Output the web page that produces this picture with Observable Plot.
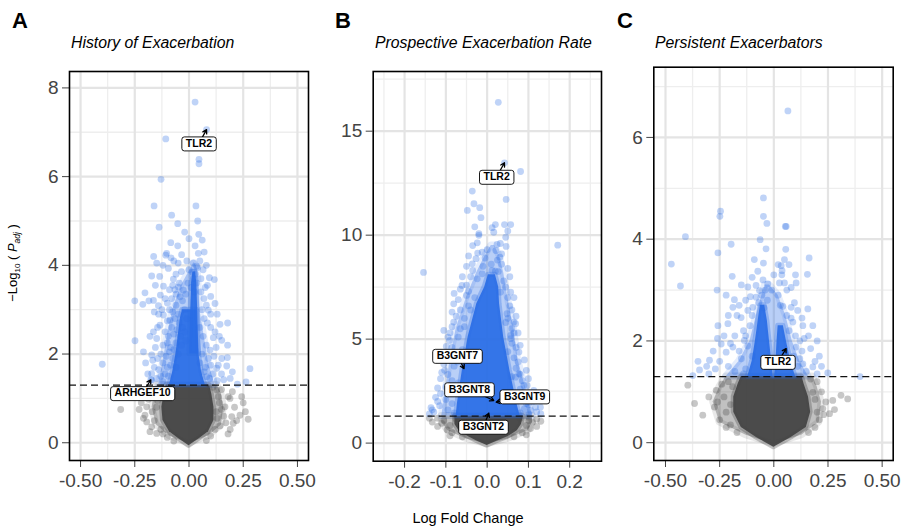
<!DOCTYPE html>
<html>
<head>
<meta charset="utf-8">
<script src="https://cdn.jsdelivr.net/npm/d3@7"></script>
<script src="https://cdn.jsdelivr.net/npm/@observablehq/plot@0.6"></script>
<style>
  body { margin: 0; background: white; font-family: "Liberation Sans", Arial, Helvetica, sans-serif; }
  #wrap { position: relative; width: 904px; height: 527px; overflow: hidden; background: white; }
  #wrap svg { position: absolute; top: 0; }
  .lbl { position: absolute; line-height: 1; white-space: nowrap; color: #000; }
  .letter { font-size: 22px; font-weight: bold; }
  .ttl { font-size: 15.8px; font-style: italic; }
</style>
</head>
<body>
<div id="wrap">
  <div class="lbl letter" style="left:12px;top:10px">A</div>
  <div class="lbl letter" style="left:335px;top:10px">B</div>
  <div class="lbl letter" style="left:617px;top:10px">C</div>
  <div class="lbl ttl" style="left:71px;top:35px">History of Exacerbation</div>
  <div class="lbl ttl" style="left:375px;top:35px">Prospective Exacerbation Rate</div>
  <div class="lbl ttl" style="left:655px;top:35px">Persistent Exacerbators</div>
  <div class="lbl" style="left:468px;top:511px;font-size:14.5px;transform:translateX(-50%)">Log Fold Change</div>
  <div class="lbl" style="left:14px;top:263px;font-size:13px;transform:translate(-50%,-50%) rotate(-90deg)">−Log<sub style="font-size:8px">10</sub> ( <i>P<sub style="font-size:8.5px">adj</sub></i> )</div>
</div>
<script>
// ---------------- data ----------------
const threshold = 1.3; // -log10(0.05)

// Panel A: History of Exacerbation
const xTicksA = [-0.5, -0.25, 0, 0.25, 0.5];
const xTickLabelsA = ["-0.50", "-0.25", "0.00", "0.25", "0.50"];
const xMinorA = [-0.375, -0.125, 0.125, 0.375];
const yTicksA = [0, 2, 4, 6, 8];
const yMinorA = [1, 3, 5, 7];
const sigA = [
 [0.028,7.68],[0.081,7.06],[-0.107,6.85],[0.046,6.39],[0.046,6.29],[-0.129,5.94],[-0.161,5.34],[0.032,5.34],
 [-0.08,5.13],[-0.052,4.94],[-0.138,4.86],[-0.084,4.51],[-0.052,4.44],[0.028,4.44],[0.061,4.57],[0.043,4.27],
 [-0.163,4.2],[-0.107,4.23],[-0.103,4.27],[-0.083,4.17],[-0.034,4.24],[-0.149,4.05],[-0.095,3.93],[-0.035,3.86],
 [-0.172,3.76],[-0.072,3.69],[0.035,3.98],[0.094,3.72],[0.117,3.68],[-0.118,3.53],[-0.203,3.38],[-0.132,3.33],
 [-0.25,3.2],[-0.213,3.12],[-0.164,3.21],[-0.141,3.09],[0.069,3.25],[0.12,3.14],[-0.026,3.44],[-0.041,3.29],
 [-0.049,3.51],[0.089,2.99],[-0.118,2.88],[-0.088,2.76],[0.143,2.67],[0.178,2.7],[-0.249,2.3],[-0.149,2.35],
 [-0.164,2.5],[-0.134,2.65],[0.112,2.37],[0.151,2.31],[0.178,2.2],[0.097,2.09],[-0.172,1.98],[-0.167,1.86],
 [0.151,1.9],[0.177,1.92],[0.174,1.73],[0.128,1.68],[-0.4,1.77],[0.281,1.67],[0.263,1.37],[0.223,1.32],
 [-0.172,1.56],[-0.172,1.41],[0.081,1.49],[-0.176,1.42],
 [-0.09,3.0],[-0.075,2.95],[-0.06,3.1],[-0.05,2.9],[-0.1,2.75],[-0.065,2.8],[-0.045,2.7],[-0.08,2.6],
 [-0.055,2.55],[-0.03,2.6],[-0.11,2.5],[-0.095,2.4],[-0.07,2.45],[-0.04,2.4],[-0.02,2.5],[-0.12,2.2],
 [-0.1,2.25],[-0.085,2.15],[-0.06,2.25],[-0.035,2.2],[-0.015,2.3],[-0.13,2.0],[-0.105,1.95],[-0.09,2.05],
 [-0.075,1.9],[-0.12,1.8],[-0.1,1.7],[-0.14,1.65],[-0.13,1.5],[-0.11,1.55],[-0.15,1.45],[-0.12,1.38],
 [-0.02,3.0],[-0.03,3.2],[-0.01,2.8],[-0.015,3.35],[-0.06,3.35],[-0.08,3.25],[-0.1,3.15],[-0.045,3.6],[-0.065,3.45],
 [0.055,3.4],[0.06,3.0],[0.07,2.8],[0.05,2.6],[0.065,2.4],[0.08,2.2],[0.06,2.0],[0.09,1.9],[0.1,1.75],
 [0.075,1.7],[0.11,1.55],[0.095,1.45],[0.13,1.4],[0.12,2.5],[0.1,2.6],[0.085,2.7],[0.075,3.5],[0.055,3.7],
 [0.065,3.9],[0.05,4.1],[0.015,3.85],[0.03,3.8],[0.02,3.7],[0.035,3.6],[0.01,3.5],[0.025,3.4],
 [-0.07,2.1],[-0.05,2.0],[-0.085,1.75],[-0.06,1.7],[0.07,1.6],[0.05,1.8],[-0.095,1.5],
 [-0.14,2.9],[-0.125,3.0],[-0.11,3.25],[-0.09,3.45],[-0.075,3.55],[-0.06,3.8],[-0.05,4.05],[-0.07,4.1],
 [-0.12,4.0],[-0.135,3.75],[-0.155,3.55],[-0.185,3.2],[-0.16,2.95],[-0.145,2.6],[-0.18,2.4],[-0.155,2.15],
 [-0.145,1.9],[-0.16,1.7],[-0.19,1.55],[-0.2,1.8],[-0.21,2.05],[0.08,3.1],[0.1,3.3],[0.085,3.55],[0.1,2.9],
 [0.13,2.9],[0.14,2.4],[0.125,2.15],[0.115,1.95],[0.135,1.75],[0.15,1.55],[0.16,1.42],[0.19,1.45],[0.2,1.6],
 [0.07,4.3],[0.08,4.0],[0.045,4.7],[0.04,5.0],[0.0,4.6],[-0.02,4.75],[-0.01,4.1],[0.0,3.9],[-0.005,3.6],
 [0.02,4.05],[0.04,3.95]
];
const nsA = [
 [-0.315,0.75],[0.128,1.19],[0.181,1.04],[0.243,1.04],[0.235,0.62],[0.273,0.53],[0.197,0.59],[0.166,0.81],
 [0.143,0.38],[-0.203,0.62],[-0.195,0.81],[-0.187,0.98],[-0.172,0.36],[-0.149,0.21],[0.189,1.0],[0.204,0.44],
 [0.135,1.04],[-0.195,0.47],[0.15,1.2],[0.16,0.6],[0.14,0.9],[0.12,0.3],[0.1,0.15],[-0.1,0.12],[-0.13,0.3],
 [-0.16,0.5],[-0.15,0.8],[-0.14,1.05],[-0.16,1.2],[-0.17,0.7],[0.17,0.45],[0.15,0.75],[0.13,0.55],[0.21,0.8],
 [0.19,0.3],[-0.12,0.2],[0.08,0.05],[-0.07,0.04],[0.11,1.25],[-0.13,1.25],[-0.145,0.95],[0.125,0.7],
 [-0.22,0.9],[-0.21,0.55],[0.22,0.5],[0.25,0.9],[0.18,0.2],[-0.18,0.25],[-0.2,1.1],[0.2,1.15],[0.26,0.7],[-0.23,0.75]
];
const grayCoreA = [[-0.07,0,0],[0.1,-0.05,0.05],[0.25,-0.09,0.09],[0.5,-0.12,0.115],[0.8,-0.125,0.115],[1.1,-0.115,0.105],[1.3,-0.105,0.095]];
const grayHaloA = [[-0.02,0,0],[0.15,-0.09,0.09],[0.4,-0.15,0.15],[0.8,-0.17,0.16],[1.1,-0.16,0.15],[1.3,-0.15,0.13]];
const blueCoreA1 = [[1.3,-0.09,0.075],[1.6,-0.075,0.058],[2.0,-0.06,0.046],[2.4,-0.05,0.04],[2.8,-0.04,0.038],[3.0,-0.03,0.036]];
const blueCoreA2 = [[2.0,0.003,0.046],[3.0,0.008,0.04],[3.6,0.012,0.036],[3.85,0.018,0.03]];
const blueHaloA = [[1.3,-0.14,0.12],[1.8,-0.12,0.09],[2.4,-0.1,0.07],[3.0,-0.075,0.05],[3.5,-0.04,0.045],[3.9,0.005,0.04],[4.05,0.022,0.026]];
const labelsA = [
 {gene:"TLR2", px:0.081, py:7.06, lx:0.046, ly:6.75},
 {gene:"ARHGEF10", px:-0.176, py:1.42, lx:-0.214, ly:1.12}
];

// Panel B: Prospective Exacerbation Rate
const xTicksB = [-0.2, -0.1, 0, 0.1, 0.2];
const xTickLabelsB = ["-0.2", "-0.1", "0.0", "0.1", "0.2"];
const xMinorB = [-0.25, -0.15, -0.05, 0.05, 0.15, 0.25];
const yTicksB = [0, 5, 10, 15];
const yMinorB = [2.5, 7.5, 12.5, 17.5];
const sigB = [
 [0.027,16.39],[0.042,13.48],[0.081,13.06],[-0.036,12.12],[-0.032,11.51],[-0.018,11.32],[-0.048,11.19],[-0.015,10.84],
 [0.046,11.72],[0.012,10.36],[0.02,10.51],[0.042,10.51],[0.057,10.51],[0.016,10.14],[-0.02,10.07],[-0.02,9.99],
 [0.171,9.52],[-0.024,9.63],[0.024,9.55],[0.032,9.6],[0.046,9.46],[0.021,9.26],[0.031,8.94],[-0.023,9.14],
 [-0.012,9.18],[-0.027,8.87],[-0.036,8.62],[-0.154,8.21],[0.012,8.3],[0.02,8.27],[0.027,8.25],[-0.012,8.14],
 [-0.024,7.9],[-0.061,7.58],[0.057,7.26],[0.032,7.26],[-0.081,6.7],[0.048,6.22],[0.069,5.74],[0.065,5.82],
 [-0.081,5.82],[0.057,5.18],[0.057,5.02],[-0.105,5.42],[-0.091,4.94],[-0.099,4.65],[0.077,4.38],[-0.103,3.5],
 [0.069,3.17],[0.077,3.34],[0.089,2.77],[0.097,2.77],[0.113,2.53],[-0.113,2.38],[-0.113,3.1],[-0.136,1.7],
 [-0.129,1.49],[-0.133,1.6],[0.129,1.73],[0.117,1.73],[0.101,1.41],[0.105,1.57],
 [-0.07,6.9],[-0.05,7.1],[-0.065,6.4],[-0.045,6.6],[-0.075,6.1],[-0.055,6.0],[-0.085,5.6],[-0.065,5.5],
 [-0.07,5.1],[-0.085,4.6],[-0.075,4.3],[-0.09,4.0],[-0.08,3.7],[-0.095,3.3],[-0.085,3.0],[-0.1,2.7],
 [-0.09,2.4],[-0.1,2.1],[-0.085,1.9],[-0.095,1.6],[-0.08,1.45],[-0.05,7.6],[-0.04,8.0],[-0.035,8.3],[-0.045,7.3],
 [0.04,7.8],[0.045,7.5],[0.05,7.0],[0.055,6.6],[0.06,6.4],[0.05,6.0],[0.06,5.5],[0.065,5.3],[0.06,4.8],
 [0.07,4.6],[0.065,4.1],[0.075,3.9],[0.07,3.6],[0.08,3.3],[0.085,3.0],[0.08,2.6],[0.09,2.3],[0.085,2.1],
 [0.095,1.9],[0.09,1.65],[0.08,1.45],[0.035,8.6],[0.025,8.8],[0.01,8.6],[-0.005,8.9],[0.0,9.3],[0.035,9.1],[-0.01,8.5],
 [-0.06,4.5],[-0.055,5.6],[-0.04,6.4],[-0.03,7.0],[0.045,5.8],[0.05,4.4],[0.06,3.2],[-0.07,2.9],[-0.072,3.9],
 [-0.12,2.0],[-0.115,1.8],[-0.12,2.65],[-0.11,3.4],[-0.105,3.8],[-0.1,4.3],[-0.095,5.1],[-0.09,5.3],[-0.085,6.3],
 [-0.08,7.2],[-0.065,7.4],[-0.06,8.0],[-0.05,8.5],[-0.045,9.0],[-0.035,9.5],[0.05,8.4],[0.055,8.0],[0.065,7.0],
 [0.07,6.1],[0.075,5.3],[0.08,4.7],[0.09,4.0],[0.095,3.5],[0.1,3.1],[0.105,2.3],[0.11,2.0],[0.12,1.5],[0.13,1.4],
 [0.1,1.85],[-0.14,1.4],[-0.125,2.2],[0.045,9.9],[0.05,10.2],[-0.03,10.4]
];
const nsB = [
 [-0.133,1.01],[-0.105,1.09],[0.101,1.09],[-0.097,0.64],[-0.09,0.85],[0.095,0.85],[0.105,0.7],[-0.11,0.95],
 [0.12,1.15],[0.1,1.25],[-0.12,1.2],[-0.085,0.5],[0.085,0.5],[-0.06,0.3],[0.065,0.3],[0.11,1.0],[-0.075,1.15],[0.08,1.2],
 [-0.12,0.8],[0.12,0.8],[-0.09,0.35],[0.095,0.4],[-0.14,1.2],[0.13,1.05]
];
const grayCoreB = [[-0.12,0,0],[0.1,-0.025,0.025],[0.3,-0.045,0.05],[0.6,-0.068,0.073],[0.9,-0.078,0.083],[1.3,-0.078,0.088]];
const grayHaloB = [[-0.05,0,0],[0.2,-0.05,0.05],[0.6,-0.095,0.1],[1.0,-0.11,0.11],[1.3,-0.11,0.11]];
const blueCoreB1 = [[1.3,-0.075,0.08],[1.9,-0.072,0.072],[3.5,-0.06,0.055],[5.1,-0.046,0.04],[6.7,-0.025,0.03],[7.5,-0.006,0.028],[8.1,0.003,0.02]];
const blueHaloB = [[1.3,-0.11,0.11],[2.5,-0.1,0.095],[4.0,-0.09,0.075],[5.5,-0.075,0.065],[7.0,-0.05,0.05],[8.2,-0.025,0.04],[9.0,-0.005,0.03],[9.5,0.01,0.018]];
const labelsB = [
 {gene:"TLR2", px:0.042, py:13.48, lx:0.023, ly:12.81},
 {gene:"B3GNT7", px:-0.056, py:3.58, lx:-0.072, ly:4.2},
 {gene:"B3GNT8", px:0.016, py:2.05, lx:-0.043, ly:2.59},
 {gene:"B3GNT9", px:0.022, py:1.97, lx:0.091, ly:2.25},
 {gene:"B3GNT2", px:0.004, py:1.44, lx:-0.009, ly:0.79}
];

// Panel C: Persistent Exacerbators
const xTicksC = [-0.5, -0.25, 0, 0.25, 0.5];
const xTickLabelsC = ["-0.50", "-0.25", "0.00", "0.25", "0.50"];
const xMinorC = [-0.375, -0.125, 0.125, 0.375];
const yTicksC = [0, 2, 4, 6];
const yMinorC = [1, 3, 5, 7];
const sigC = [
 [0.065,6.52],[-0.048,4.81],[-0.246,4.55],[-0.249,4.45],[-0.048,4.45],[-0.032,4.31],[0.057,4.25],[0.053,4.25],
 [-0.408,4.05],[-0.063,3.99],[-0.197,3.9],[-0.036,3.81],[-0.258,3.73],[-0.473,3.51],[0.163,3.63],[0.049,3.6],
 [-0.048,3.53],[0.034,3.48],[0.038,3.38],[-0.074,3.37],[-0.192,3.27],[0.155,3.31],[0.037,3.3],[-0.431,3.08],
 [-0.262,3.0],[0.103,3.14],[0.026,3.14],[0.049,3.14],[-0.12,3.06],[-0.082,3.09],[-0.066,2.99],[-0.028,3.12],
 [-0.108,2.87],[-0.082,2.86],[-0.182,2.81],[-0.189,2.66],[0.095,2.75],[0.157,2.63],[0.08,2.66],[0.042,2.68],
 [-0.097,2.66],[-0.151,2.46],[-0.212,2.34],[-0.258,2.3],[0.134,2.3],[0.088,2.37],[-0.297,1.62],[-0.343,1.43],
 [-0.374,1.32],[-0.243,1.94],[-0.22,1.78],[-0.189,1.88],[-0.136,2.01],[0.21,1.7],[0.134,1.55],[0.18,1.49],
 [0.249,1.37],[0.398,1.3],[0.103,1.88],
 [-0.05,3.2],[-0.04,3.0],[-0.055,2.9],[-0.03,2.8],[-0.07,2.75],[-0.045,2.65],[-0.12,2.6],[-0.17,2.5],
 [-0.14,2.2],[-0.18,2.1],[-0.2,1.95],[-0.16,1.8],[-0.25,1.6],[-0.21,1.5],[-0.18,1.4],[-0.27,1.45],
 [-0.15,1.65],[-0.13,1.45],[-0.12,1.9],[-0.11,2.3],[0.02,2.9],[0.03,2.7],[0.06,2.5],[0.07,2.2],[0.1,2.1],
 [0.12,2.0],[0.09,1.7],[0.11,1.5],[0.15,1.4],[0.13,1.8],[0.06,3.0],[0.02,3.5],[0.055,3.8],[0.16,2.1],
 [0.19,1.6],[-0.3,1.35],[0.2,1.35],[-0.1,2.5],[-0.13,2.1],[-0.1,1.7],[-0.14,1.35],[0.08,2.45],[0.12,1.65],[0.14,2.05],
 [-0.23,2.1],[-0.21,2.5],[-0.16,2.7],[-0.15,3.1],[-0.13,2.8],[-0.22,2.9],[-0.28,1.8],[-0.31,1.5],[-0.26,2.05],
 [-0.35,1.6],[0.17,1.85],[0.2,2.0],[0.22,1.5],[0.18,2.3],[0.11,2.6],[0.13,2.45],[0.1,3.3],[0.08,3.05],[0.0,3.3],
 [-0.01,3.0],[-0.09,3.6],[-0.1,3.25],[0.07,3.5]
];
const nsC = [
 [-0.397,1.13],[-0.366,0.77],[-0.328,0.54],[-0.266,1.03],[-0.274,0.7],[0.272,0.83],[0.31,0.93],[0.341,0.86],
 [0.226,0.67],[0.257,0.57],[0.18,0.99],[-0.23,0.9],[-0.22,0.6],[-0.25,0.45],[-0.2,0.35],[-0.21,1.2],[-0.24,1.15],
 [0.2,1.2],[0.22,1.0],[0.24,0.8],[0.21,0.45],[0.19,0.3],[-0.17,0.2],[0.16,0.2],[-0.3,0.9],[0.28,0.65],
 [-0.26,0.8],[0.23,0.55],[-0.19,1.1],[0.17,1.25],[-0.2,0.75],[0.19,0.85],[-0.22,0.3],[0.2,0.6]
];
const grayCoreC = [[-0.09,0,0],[0.1,-0.08,0.08],[0.3,-0.15,0.15],[0.6,-0.185,0.17],[0.9,-0.185,0.16],[1.15,-0.165,0.14],[1.3,-0.15,0.13]];
const grayHaloC = [[-0.03,0,0],[0.15,-0.13,0.13],[0.4,-0.25,0.21],[0.8,-0.28,0.22],[1.1,-0.25,0.2],[1.3,-0.22,0.18]];
const blueCoreC1 = [[1.3,-0.12,-0.004],[1.6,-0.1,-0.01],[2.0,-0.085,-0.02],[2.4,-0.072,-0.03],[2.7,-0.062,-0.042]];
const blueCoreC2 = [[1.3,0.004,0.1],[1.6,0.01,0.078],[2.0,0.015,0.058],[2.3,0.02,0.044]];
const blueHaloC = [[1.3,-0.22,0.16],[1.6,-0.16,0.12],[2.0,-0.11,0.085],[2.5,-0.08,0.055],[2.9,-0.055,0.02],[3.1,-0.04,-0.02]];
const labelsC = [
 {gene:"TLR2", px:0.057, py:1.85, lx:0.019, ly:1.59}
];

// ---------------- drawing ----------------
const BLUE = "#2a6ee6", GREY = "#444444";
const wrap = document.getElementById("wrap");

function panel(cfg) {
  const fmt = d => cfg.xLabels[cfg.xTicks.indexOf(d)];
  const pt = {x: d => d[0], y: d => d[1], r: 3.4};
  const env = {y: d => d[0], x1: d => d[1], x2: d => d[2], curve: "linear", strokeLinejoin: "round"};
  const svg = Plot.plot({
    width: cfg.width, height: 500,
    marginLeft: cfg.mL, marginRight: cfg.mR, marginTop: cfg.mT, marginBottom: cfg.mB,
    style: {fontSize: "19px", fontFamily: "Liberation Sans, Arial, sans-serif", color: "#444", background: "transparent", overflow: "visible"},
    x: {domain: cfg.xDomain, ticks: cfg.xTicks, tickFormat: fmt, tickSize: 7, tickPadding: 6, label: null},
    y: {domain: cfg.yDomain, ticks: cfg.yTicks, tickFormat: d => String(d), tickSize: 7, tickPadding: 4, label: null},
    marks: [
      Plot.ruleX(cfg.xMinor, {stroke: "#eeeeee", strokeWidth: 1.3}),
      Plot.ruleY(cfg.yMinor, {stroke: "#eeeeee", strokeWidth: 1.3}),
      Plot.ruleX(cfg.xTicks, {stroke: "#e4e4e4", strokeWidth: 2.2}),
      Plot.ruleY(cfg.yTicks, {stroke: "#e4e4e4", strokeWidth: 2.2}),
      Plot.areaX(cfg.grayHalo, {...env, fill: GREY, fillOpacity: 0.33, stroke: GREY, strokeOpacity: 0.12, strokeWidth: 7}),
      Plot.areaX(cfg.grayCore, {...env, fill: GREY, fillOpacity: 0.95, stroke: GREY, strokeOpacity: 0.3, strokeWidth: 5}),
      Plot.dot(cfg.ns, {...pt, fill: GREY, fillOpacity: 0.3}),
      Plot.areaX(cfg.blueHalo, {...env, fill: BLUE, fillOpacity: 0.33, stroke: BLUE, strokeOpacity: 0.12, strokeWidth: 7}),
      ...cfg.blueCores.map(c => Plot.areaX(c, {...env, fill: BLUE, fillOpacity: 0.93, stroke: BLUE, strokeOpacity: 0.3, strokeWidth: 5})),
      Plot.dot(cfg.sig, {...pt, fill: BLUE, fillOpacity: 0.3}),
      Plot.ruleY([threshold], {stroke: "#111", strokeWidth: 1.2, strokeDasharray: "7,4"}),
      Plot.arrow(cfg.labels, {x1: "lx", y1: "ly", x2: "px", y2: "py", stroke: "black", strokeWidth: 1.3, headLength: 5}),
      Plot.text(cfg.labels, {x: "lx", y: "ly", text: "gene", fontSize: 10.5, fontWeight: "bold", fill: "black"}),
      Plot.frame({stroke: "black", strokeWidth: 1.6})
    ]
  });
  svg.style.left = cfg.left + "px";
  wrap.appendChild(svg);
  // white rounded boxes behind gene labels
  const ns = "http://www.w3.org/2000/svg";
  svg.querySelectorAll('g[aria-label="text"] text').forEach(t => {
    const b = t.getBBox();
    const r = document.createElementNS(ns, "rect");
    r.setAttribute("x", b.x - 4); r.setAttribute("y", b.y + 0.2);
    r.setAttribute("width", b.width + 8); r.setAttribute("height", b.height + 2);
    r.setAttribute("rx", 2.5); r.setAttribute("fill", "white");
    r.setAttribute("stroke", "black"); r.setAttribute("stroke-width", 0.9);
    const tr = t.getAttribute("transform"); if (tr) r.setAttribute("transform", tr);
    t.parentNode.insertBefore(r, t);
  });
}

panel({left: 0, width: 312, mL: 69, mR: 4, mT: 71, mB: 40,
  xDomain: [-0.551, 0.551], yDomain: [-0.4, 8.37],
  xTicks: xTicksA, xLabels: xTickLabelsA, xMinor: xMinorA, yTicks: yTicksA, yMinor: yMinorA,
  sig: sigA, ns: nsA, grayCore: grayCoreA, grayHalo: grayHaloA, blueCores: [blueCoreA1, blueCoreA2], blueHalo: blueHaloA, labels: labelsA});

panel({left: 312, width: 292, mL: 60.7, mR: 3, mT: 71, mB: 39.3,
  xDomain: [-0.276, 0.277], yDomain: [-0.87, 17.87],
  xTicks: xTicksB, xLabels: xTickLabelsB, xMinor: xMinorB, yTicks: yTicksB, yMinor: yMinorB,
  sig: sigB, ns: nsB, grayCore: grayCoreB, grayHalo: grayHaloB, blueCores: [blueCoreB1], blueHalo: blueHaloB, labels: labelsB});

panel({left: 604, width: 300, mL: 49.3, mR: 11.3, mT: 66.7, mB: 40,
  xDomain: [-0.554, 0.551], yDomain: [-0.35, 7.38],
  xTicks: xTicksC, xLabels: xTickLabelsC, xMinor: xMinorC, yTicks: yTicksC, yMinor: yMinorC,
  sig: sigC, ns: nsC, grayCore: grayCoreC, grayHalo: grayHaloC, blueCores: [blueCoreC1, blueCoreC2], blueHalo: blueHaloC, labels: labelsC});
</script>
</body>
</html>
